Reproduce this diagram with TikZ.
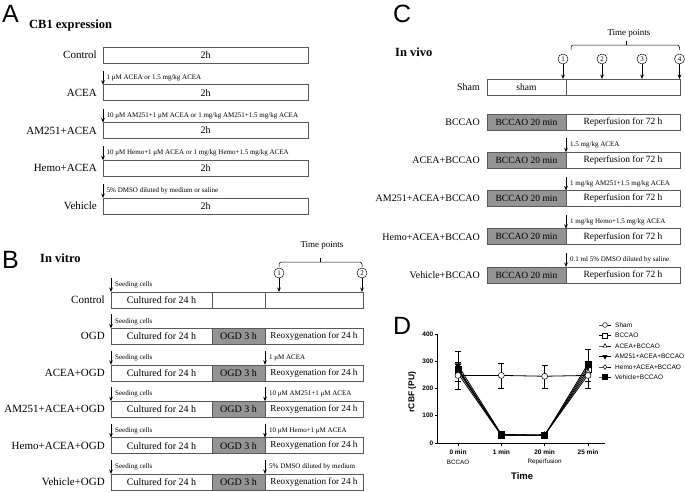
\documentclass[tikz,border=0pt]{standalone}
\usepackage{fontspec}
\setmainfont{Liberation Serif}
\newfontfamily\arialf{Liberation Sans}
\usetikzlibrary{arrows.meta,calc,plotmarks}

\newcommand{\myebar}[3]{\draw[line width=0.5pt] (#1,#2) -- (#1,#3) ([xshift=-3pt]#1,#2) -- ([xshift=3pt]#1,#2) ([xshift=-3pt]#1,#3) -- ([xshift=3pt]#1,#3);}

\tikzset{
 rowlbl/.style={anchor=east, font=\fontsize{11}{12}\selectfont, inner sep=0},
 rowlblc/.style={anchor=east, font=\fontsize{10}{11}\selectfont, inner sep=0},
 seg/.style={draw=black!65, line width=0.6pt, minimum height=16pt, inner sep=0, outer sep=0, anchor=north west, font=\fontsize{10}{11}\selectfont},
 dark/.style={seg, fill=black!42},
 reox/.style={seg, font=\fontsize{9.2}{10}\selectfont},
 cseg/.style={seg, font=\fontsize{9.5}{10}\selectfont},
 cdark/.style={cseg, fill=black!42},
 arr/.style={-{Stealth[length=4.5pt,width=3.6pt]}, line width=0.7pt},
 note/.style={anchor=west, font=\fontsize{7}{8}\selectfont, inner sep=0},
 tp/.style={circle, draw, line width=0.45pt, inner sep=0, minimum size=10pt, font=\fontsize{7}{7}\selectfont},
 tptxt/.style={font=\fontsize{9}{10}\selectfont, inner sep=0},
 brace/.style={line width=0.5pt, rounded corners=2.5pt},
 panel/.style={anchor=north west, font=\arialf\fontsize{25}{25}\selectfont, inner sep=0},
 title/.style={anchor=west, font=\bfseries\fontsize{12.5}{14}\selectfont, inner sep=0},
 ticklbl/.style={font=\arialf\bfseries\fontsize{6.5}{7}\selectfont, inner sep=0},
 sublbl/.style={font=\arialf\fontsize{6.3}{7}\selectfont, inner sep=0},
 leglbl/.style={anchor=west, font=\arialf\fontsize{6.5}{7}\selectfont, inner sep=0},
 serie/.style={line width=0.8pt, mark size=3pt, mark options={solid, fill=white, line width=0.5pt}},
 legm/.style={line width=0.6pt, mark size=2.4pt, mark indices={2}, mark options={solid, fill=white, line width=0.5pt}},
}

\begin{document}
\begin{tikzpicture}[x=1pt,y=-1pt]
\useasboundingbox (0,0) rectangle (685,491);

% ================= Panel A =================
\node[panel] (pA) at (2,5) {A};
\node[title] (tA) at (29,25) {CB1 expression};
\node[seg, minimum width=205pt] (a1) at (103,47) {2h};
\node[seg, minimum width=205pt] (a2) at (103,84.75) {2h};
\node[seg, minimum width=205pt] (a3) at (103,122.5) {2h};
\node[seg, minimum width=205pt] (a4) at (103,160.25) {2h};
\node[seg, minimum width=205pt] (a5) at (103,198) {2h};
\node[rowlbl] (la1) at ([xshift=-6pt]a1.west) {Control};
\node[rowlbl] (la2) at ([xshift=-6pt]a2.west) {ACEA};
\node[rowlbl] (la3) at ([xshift=-6pt]a3.west) {AM251+ACEA};
\node[rowlbl] (la4) at ([xshift=-6pt]a4.west) {Hemo+ACEA};
\node[rowlbl] (la5) at ([xshift=-6pt]a5.west) {Vehicle};
\foreach \n in {2,3,4,5} {
  \coordinate (as\n) at ([yshift=14pt]a\n.north west);
  \draw[arr] (as\n) -- (a\n.north west);
}
\node[note] (na2) at ([xshift=3.5pt,yshift=7pt]a2.north west) {1 μM ACEA or 1.5 mg/kg ACEA};
\node[note] (na3) at ([xshift=3.5pt,yshift=7pt]a3.north west) {10 μM AM251+1 μM ACEA or 1 mg/kg AM251+1.5 mg/kg ACEA};
\node[note] (na4) at ([xshift=3.5pt,yshift=7pt]a4.north west) {10 μM Hemo+1 μM ACEA or 1 mg/kg Hemo+1.5 mg/kg ACEA};
\node[note] (na5) at ([xshift=3.5pt,yshift=7pt]a5.north west) {5\% DMSO diluted by medium or saline};

% ================= Panel B =================
\node[panel] (pB) at (2,251) {B};
\node[title] (tB) at (40,258) {In vitro};
\node[seg, minimum width=101pt] (ba1) at (111,292) {Cultured for 24 h};
\node[seg, minimum width=53pt] (bb1) at (ba1.north east) {};
\node[seg, minimum width=98pt] (bc1) at (bb1.north east) {};
\node[rowlbl] (lb1) at ([xshift=-6pt]ba1.west) {Control};
\coordinate (bs1) at ([yshift=14pt]ba1.north west);
\draw[arr] (bs1) -- (ba1.north west);
\node[note] (nb1) at ([xshift=4pt,yshift=7pt]ba1.north west) {Seeding cells};
\foreach \n/\y/\lab in {2/328.4/OGD, 3/364.8/ACEA+OGD, 4/401.2/AM251+ACEA+OGD, 5/437.6/Hemo+ACEA+OGD, 6/474/Vehicle+OGD} {
  \node[seg, minimum width=101pt] (ba\n) at (111,\y) {Cultured for 24 h};
  \node[dark, minimum width=53pt] (bb\n) at (ba\n.north east) {OGD 3 h};
  \node[reox, minimum width=98pt] (bc\n) at (bb\n.north east) {Reoxygenation for 24 h};
  \node[rowlbl] (lb\n) at ([xshift=-6pt]ba\n.west) {\lab};
  \coordinate (bs\n) at ([yshift=14pt]ba\n.north west);
  \draw[arr] (bs\n) -- (ba\n.north west);
  \node[note] (nb\n) at ([xshift=4pt,yshift=7pt]ba\n.north west) {Seeding cells};
}
\foreach \n/\t in {3/1 μM ACEA, 4/10 μM AM251+1 μM ACEA, 5/10 μM Hemo+1 μM ACEA, 6/5\% DMSO diluted by medium} {
  \coordinate (bt\n) at ([yshift=14pt]bb\n.north east);
  \draw[arr] (bt\n) -- (bb\n.north east);
  \node[note] (nt\n) at ([xshift=4pt,yshift=7pt]bb\n.north east) {\t};
}
\node[tp] (tb1) at (279,273) {1};
\node[tp] (tb2) at (362,273) {2};
\draw[arr] (tb1) -- (tb1 |- bc1.north);
\draw[arr] (tb2) -- (tb2 |- bc1.north);
\draw[brace] (279,267) |- (320,262) -| (362,267);
\draw[line width=0.5pt] (320,262) -- (320,258);
\node[tptxt] (tpB) at (322,245) {Time points};

% ================= Panel C =================
\node[panel] (pC) at (393,5) {C};
\node[title] (tC) at (395,52) {In vivo};
\node[cseg, minimum width=79pt] (cl1) at (487,79) {sham};
\node[cseg, minimum width=114pt] (cr1) at (cl1.north east) {};
\node[rowlblc] (lc1) at ([xshift=-7pt]cl1.west) {Sham};
\foreach \n/\y/\lab in {2/114/BCCAO, 3/152.25/ACEA+BCCAO, 4/190.5/AM251+ACEA+BCCAO, 5/228.75/Hemo+ACEA+BCCAO, 6/267/Vehicle+BCCAO} {
  \node[cdark, minimum width=79pt] (cl\n) at (487,\y) {BCCAO 20 min};
  \node[cseg, minimum width=114pt] (cr\n) at (cl\n.north east) {Reperfusion for 72 h};
  \node[rowlblc] (lc\n) at ([xshift=-7pt]cl\n.west) {\lab};
}
\foreach \n in {3,4,5,6} {
  \coordinate (ct\n) at ([yshift=14pt]cl\n.north east);
  \draw[arr] (ct\n) -- (cl\n.north east);
}
\node[note] (nc3) at ([xshift=4pt,yshift=7pt]cl3.north east) {1.5 mg/kg ACEA};
\node[note] (nc4) at ([xshift=4pt,yshift=7pt]cl4.north east) {1 mg/kg AM251+1.5 mg/kg ACEA};
\node[note] (nc5) at ([xshift=4pt,yshift=7pt]cl5.north east) {1 mg/kg Hemo+1.5 mg/kg ACEA};
\node[note] (nc6) at ([xshift=4pt,yshift=7pt]cl6.north east) {0.1 ml 5\% DMSO diluted by saline};
\node[tp] (tc1) at (563,59) {1};
\node[tp] (tc2) at (602,59) {2};
\node[tp] (tc3) at (642,59) {3};
\node[tp] (tc4) at (679.5,59) {4};
\foreach \n in {1,2,3,4} { \draw[arr] (tc\n) -- (tc\n |- cr1.north); }
\draw[brace] (571,50) |- (626,45) -| (679.5,50);
\draw[line width=0.5pt] (626,45) -- (626,41);
\node[tptxt] (tpC) at (629,33) {Time points};

% ================= Panel D =================
\node[panel] (pD) at (393,317) {D};
\begin{scope}[shift={(458,443)}, x=43.33pt, y=0.2725pt]
  \draw[line width=0.7pt] (-0.4846,400) -- (-0.4846,0) -- (3.39,0);
  \foreach \v in {0,100,200,300,400} {
    \draw[line width=0.6pt] (-0.4846,\v) -- ([xshift=-2.5pt]-0.4846,\v);
    \node[ticklbl, anchor=east] (ty\v) at ([xshift=-3.5pt]-0.4846,\v) {\v};
  }
  \foreach \i/\t in {0/0 min, 1/1 min, 2/20 min, 3/25 min} {
    \draw[line width=0.6pt] (\i,0) -- ([yshift=-2.5pt]\i,0);
    \node[ticklbl, anchor=north] (tx\i) at ([yshift=-7pt]\i,0) {\t};
  }
  \node[sublbl] (sx0) at ([yshift=-19pt]0,0) {BCCAO};
  \node[sublbl] (sx2) at ([yshift=-19pt]2,0) {Reperfusion};
  \node[font=\arialf\bfseries\fontsize{9.5}{10}\selectfont, inner sep=0] (xt) at ([yshift=-33pt]1.48,0) {Time};
  \node[font=\arialf\bfseries\fontsize{8.5}{9}\selectfont, inner sep=0, rotate=90] (yt) at (-1.06,187) {rCBF (PU)};
  % error bars
  \myebar{0}{198}{335}
  \myebar{0}{225}{298}
  \myebar{1}{200}{293}
  \myebar{2}{200}{285}
  \myebar{3}{200}{345}
  \myebar{3}{225}{300}
  \myebar{1}{20}{38}
  \myebar{2}{20}{38}
  % series
  \draw[serie, mark=square*] plot coordinates {(0,265) (1,30) (2,28) (3,270)};
  \draw[serie, mark=triangle*] plot coordinates {(0,275) (1,28) (2,30) (3,260)};
  \draw[serie, mark=triangle*, mark options={rotate=180}] plot coordinates {(0,285) (1,32) (2,28) (3,280)};
  \draw[serie, mark=diamond*] plot coordinates {(0,255) (1,28) (2,30) (3,250)};
  \draw[serie, mark=square*, mark options={fill=black}] plot coordinates {(0,270) (1,30) (2,28) (3,290)};
  \draw[serie, mark=*] plot coordinates {(0,248) (1,248) (2,245) (3,248)};
\end{scope}
% legend
\draw[legm, mark=*] plot coordinates {(599,325) (605,325) (611,325)};
\draw[legm, mark=square*] plot coordinates {(599,335.5) (605,335.5) (611,335.5)};
\draw[legm, mark=triangle*] plot coordinates {(599,346) (605,346) (611,346)};
\draw[legm, mark=triangle*, mark options={rotate=180}] plot coordinates {(599,356.5) (605,356.5) (611,356.5)};
\draw[legm, mark=diamond*] plot coordinates {(599,367) (605,367) (611,367)};
\draw[legm, mark=square*, mark options={fill=black}] plot coordinates {(599,377) (605,377) (611,377)};
\node[leglbl] (lg1) at (615,325) {Sham};
\node[leglbl] (lg2) at (615,335.5) {BCCAO};
\node[leglbl] (lg3) at (615,346) {ACEA+BCCAO};
\node[leglbl] (lg4) at (615,356.5) {AM251+ACEA+BCCAO};
\node[leglbl] (lg5) at (615,367) {Hemo+ACEA+BCCAO};
\node[leglbl] (lg6) at (615,377) {Vehicle+BCCAO};
\end{tikzpicture}
\end{document}
